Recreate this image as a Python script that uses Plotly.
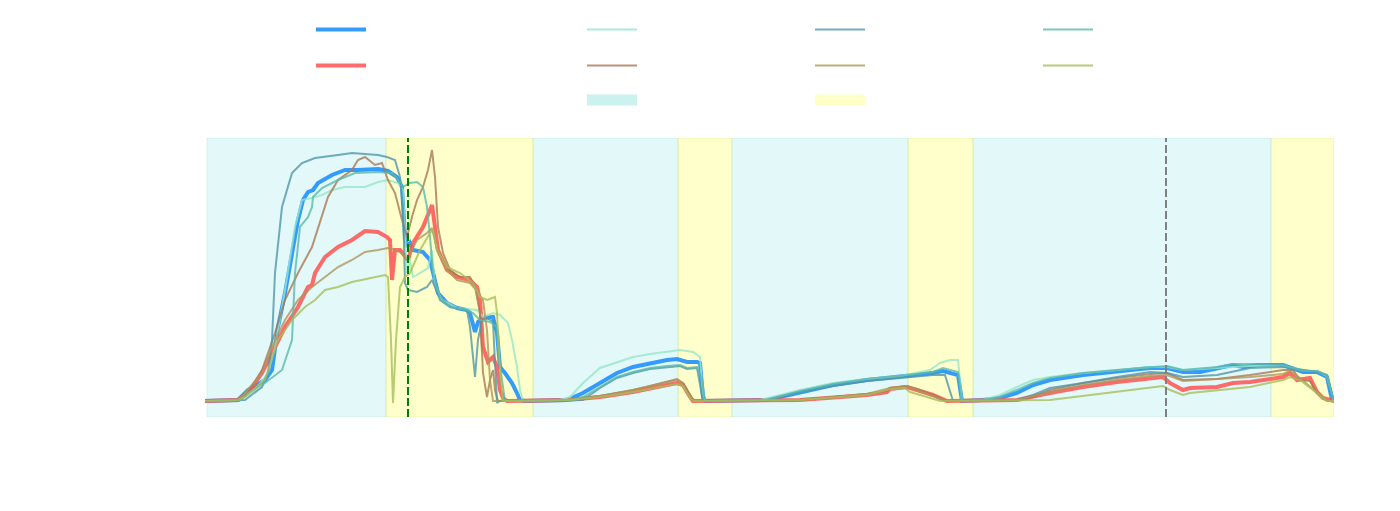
import plotly.graph_objects as go

# ---- data (x: time step, y: value) ----
blue_pts = [(-2,0),(31,1),(41,11),(58,21),(65,31),(71,74),(78,108),(85,148),(91,181),(96,201),(101,209),(106,211),(111,218),(125,226),(138,231),(151,231),(171,232),(181,230),(190,224),(195,214),(196,194),(198,164),(200,154),(203,158),(206,151),(216,149),(223,141),(226,128),(231,108),(240,98),(250,93),(260,91),(263,88),(268,69),(271,79),(276,83),(286,84),(290,68),(293,34),(298,28),(305,18),(310,8),(313,1),(318,0),(360,1),(376,8),(393,18),(410,28),(426,34),(443,38),(460,41),(470,42),(480,39),(490,39),(493,38),(496,4),(498,0),(560,1),(593,9),(626,16),(660,21),(693,24),(726,28),(736,30),(743,28),(751,26),(755,0),(776,1),(793,3),(810,8),(826,16),(843,21),(876,26),(910,30),(943,33),(960,33),(976,29),(993,29),(1010,33),(1026,36),(1036,34),(1050,36),(1076,36),(1086,33),(1096,29),(1110,29),(1120,24),(1125,1),(1127,0)]

red_pts = [(-2,0),(31,1),(41,8),(55,28),(65,48),(78,74),(91,94),(98,108),(101,114),(105,116),(108,128),(118,144),(131,154),(145,161),(158,170),(171,169),(180,164),(183,161),(185,121),(188,151),(193,151),(201,141),(206,158),(216,174),(223,191),(225,196),(228,174),(231,151),(240,131),(250,124),(263,121),(270,114),(273,101),(276,54),(281,39),(286,44),(290,34),(293,11),(296,3),(300,0),(360,1),(393,4),(426,9),(443,13),(460,16),(470,18),(476,16),(483,4),(486,0),(593,1),(626,3),(660,6),(680,9),(683,12),(700,14),(710,11),(726,6),(740,0),(810,1),(843,8),(876,14),(910,19),(943,23),(956,24),(963,18),(976,11),(983,13),(1010,14),(1026,18),(1043,19),(1076,24),(1083,28),(1090,21),(1103,23),(1110,9),(1116,3),(1127,0)]

mint_pts = [(-2,0),(33,1),(48,11),(61,28),(68,54),(78,111),(88,174),(95,201),(105,203),(115,206),(125,211),(138,214),(158,214),(171,219),(181,221),(191,218),(196,211),(200,128),(203,141),(206,124),(213,128),(221,133),(225,151),(228,114),(235,101),(250,93),(270,91),(276,84),(286,88),(293,86),(301,78),(305,61),(310,34),(313,11),(316,0),(353,1),(363,4),(376,18),(393,33),(410,39),(426,44),(443,47),(460,49),(473,51),(486,49),(493,44),(496,4),(498,0),(553,1),(593,11),(626,18),(660,22),(693,25),(723,31),(733,38),(743,41),(751,41),(755,0),(776,1),(793,6),(810,14),(826,21),(843,24),(876,28),(910,31),(943,34),(960,34),(976,31),(1010,33),(1043,35),(1076,35),(1096,31),(1110,30),(1120,25),(1127,0)]

brown_pts = [(-2,0),(33,1),(41,8),(55,31),(61,48),(68,68),(78,101),(91,128),(105,154),(115,184),(121,204),(131,221),(145,231),(151,241),(158,244),(168,236),(175,238),(181,221),(188,208),(195,181),(200,164),(205,184),(210,201),(216,214),(221,231),(225,251),(228,224),(231,174),(236,148),(243,131),(253,124),(263,124),(268,114),(273,88),(276,28),(280,4),(283,21),(286,31),(288,11),(291,0),(360,1),(393,5),(426,11),(443,15),(460,19),(470,22),(476,18),(485,3),(488,0),(593,1),(626,4),(660,7),(680,10),(683,13),(700,15),(710,12),(726,6),(740,0),(810,1),(826,4),(843,11),(876,18),(910,23),(943,27),(960,28),(976,21),(1010,22),(1043,26),(1076,31),(1086,31),(1093,21),(1103,20),(1110,8),(1120,0),(1127,0)]

teal_pts = [(-2,0),(38,1),(55,14),(61,28),(65,61),(68,128),(75,194),(85,228),(95,238),(108,243),(131,246),(145,248),(171,246),(180,244),(188,241),(193,224),(196,194),(198,118),(201,111),(210,109),(220,114),(225,121),(228,114),(233,101),(243,94),(260,91),(263,74),(268,24),(271,61),(275,81),(280,83),(286,79),(290,-2),(293,0),(376,1),(393,13),(410,23),(426,28),(443,32),(460,34),(473,35),(480,32),(490,33),(496,0),(560,1),(593,9),(626,15),(660,20),(693,23),(726,26),(738,26),(746,0),(810,1),(826,6),(843,13),(876,18),(910,24),(943,29),(960,28),(976,24),(1010,26),(1043,33),(1076,34),(1096,31),(1110,29),(1120,26),(1127,0)]

tan_pts = [(-2,0),(31,1),(38,8),(55,28),(65,54),(78,81),(91,101),(105,114),(118,124),(131,134),(145,141),(158,149),(171,151),(181,153),(188,151),(195,148),(200,141),(210,161),(220,168),(225,173),(230,151),(240,131),(250,121),(263,118),(271,109),(276,101),(280,71),(283,21),(286,0),(360,1),(393,5),(426,11),(443,15),(460,19),(470,21),(476,16),(485,2),(488,0),(593,1),(660,7),(683,13),(700,15),(713,10),(728,4),(738,0),(810,1),(843,9),(876,16),(910,21),(943,25),(960,26),(976,20),(1010,22),(1043,24),(1076,27),(1083,30),(1093,23),(1110,9),(1120,0),(1127,0)]

tgreen_pts = [(-2,0),(33,1),(41,8),(58,18),(75,31),(85,61),(88,128),(93,174),(101,184),(105,194),(106,204),(115,213),(131,221),(148,228),(171,229),(185,228),(193,219),(196,214),(203,218),(210,219),(216,214),(220,194),(223,164),(226,128),(233,104),(243,94),(260,91),(266,88),(273,81),(283,79),(290,74),(291,54),(295,21),(298,0),(368,1),(376,4),(393,14),(410,24),(426,29),(443,33),(460,35),(473,36),(480,33),(490,34),(495,21),(498,0),(560,1),(593,10),(626,17),(660,22),(693,25),(726,29),(736,33),(743,31),(751,29),(755,0),(776,1),(793,4),(810,11),(826,18),(843,23),(876,28),(910,31),(943,34),(960,35),(976,31),(1010,34),(1026,37),(1050,37),(1076,36),(1096,30),(1110,30),(1120,26),(1127,0)]

olive_pts = [(-2,0),(31,1),(38,4),(58,21),(71,61),(85,81),(98,94),(108,101),(118,111),(131,114),(145,119),(165,123),(178,126),(181,124),(184,61),(186,-2),(189,61),(193,114),(198,124),(203,128),(213,151),(223,168),(226,171),(230,151),(240,134),(253,128),(266,118),(273,104),(280,101),(288,104),(290,88),(293,31),(296,0),(360,1),(393,4),(426,9),(443,12),(460,15),(470,17),(476,15),(483,3),(487,0),(593,1),(660,6),(683,12),(698,13),(703,9),(720,4),(733,0),(843,1),(876,5),(910,9),(956,15),(963,11),(976,6),(983,8),(1043,14),(1076,21),(1083,24),(1093,21),(1110,8),(1120,0),(1127,0)]

# phase intervals (start, end)
phase_a = [(0,179),(326,471),(525,701),(766,1064)]
phase_b = [(179,326),(471,525),(701,766),(1064,1127)]

# event markers
event_green = [201]
event_gray = [959]

Y_LO, Y_HI = -16, 263
X_LO, X_HI = -2, 1127

fig = go.Figure()

def band_xy(intervals):
    xs, ys = [], []
    for a, b in intervals:
        xs += [a, b, b, a, a, None]
        ys += [Y_LO, Y_LO, Y_HI, Y_HI, Y_LO, None]
    return xs, ys

bx, by = band_xy(phase_a)
fig.add_trace(go.Scatter(x=bx, y=by, fill="toself", mode="lines",
                         fillcolor="rgba(0,190,190,0.11)",
                         line=dict(color="rgba(0,190,190,0.10)", width=1),
                         showlegend=False, hoverinfo="skip"))
bx, by = band_xy(phase_b)
fig.add_trace(go.Scatter(x=bx, y=by, fill="toself", mode="lines",
                         fillcolor="rgba(255,255,0,0.2)",
                         line=dict(color="rgba(190,230,120,0.35)", width=1),
                         showlegend=False, hoverinfo="skip"))

series = [
    (blue_pts, "rgba(30,144,255,0.9)", 4, "legend", "g1"),
    (red_pts, "rgba(255,85,85,0.88)", 4, "legend", "g2"),
    (mint_pts, "rgba(150,230,200,0.8)", 2, "legend2", "g3"),
    (brown_pts, "rgba(170,120,85,0.8)", 2, "legend2", "g4"),
    (teal_pts, "rgba(80,150,170,0.8)", 2, "legend3", "g5"),
    (tan_pts, "rgba(175,150,90,0.8)", 2, "legend3", "g6"),
    (tgreen_pts, "rgba(90,185,170,0.8)", 2, "legend4", "g7"),
    (olive_pts, "rgba(165,190,90,0.8)", 2, "legend4", "g8"),
]
for pts, col, w, lg, grp in series:
    xs = [p[0] for p in pts]
    ys = [p[1] for p in pts]
    fig.add_trace(go.Scatter(x=xs, y=ys, mode="lines", line=dict(color=col, width=w),
                             name="", legend=lg, legendgroup=grp, legendrank=int(grp[1:]),
                             hoverinfo="skip"))

# legend swatches for the two phase bands
fig.add_trace(go.Scatter(x=[None], y=[None], mode="lines", fill="toself",
                         fillcolor="rgb(204,242,240)",
                         line=dict(color="rgb(204,242,240)", width=10),
                         name="", legend="legend2", legendgroup="g9", legendrank=1000,
                         hoverinfo="skip"))
fig.add_trace(go.Scatter(x=[None], y=[None], mode="lines", fill="toself",
                         fillcolor="rgb(255,255,200)",
                         line=dict(color="rgb(255,255,200)", width=10),
                         name="", legend="legend3", legendgroup="g10", legendrank=1000,
                         hoverinfo="skip"))

shapes = []
for xv in event_green:
    shapes.append(dict(type="line", xref="x", yref="paper", x0=xv, x1=xv, y0=0, y1=1,
                       line=dict(color="green", width=2, dash="8px,3px"), layer="above"))
for xv in event_gray:
    shapes.append(dict(type="line", xref="x", yref="paper", x0=xv, x1=xv, y0=0, y1=1,
                       line=dict(color="gray", width=2, dash="8px,3px"), layer="above"))

PW = 1129.0
def lx(px):
    return (px - 205) / PW

leg_common = dict(orientation="v", yanchor="top", xanchor="left", y=1.441,
                  tracegroupgap=17, bgcolor="rgba(0,0,0,0)", itemwidth=50,
                  font=dict(size=12))
fig.update_layout(
    width=1400, height=511,
    margin=dict(l=205, r=66, t=138, b=94, autoexpand=False),
    paper_bgcolor="white", plot_bgcolor="white",
    xaxis=dict(range=[X_LO, X_HI], showgrid=False, zeroline=False, showticklabels=False,
               showline=False, ticks=""),
    yaxis=dict(range=[Y_LO, Y_HI], showgrid=False, zeroline=False, showticklabels=False,
               showline=False, ticks=""),
    shapes=shapes,
    showlegend=True,
    legend=dict(x=lx(311), **leg_common),
    legend2=dict(x=lx(582), **leg_common),
    legend3=dict(x=lx(810), **leg_common),
    legend4=dict(x=lx(1038), **leg_common),
)

fig.write_html("out.html")
